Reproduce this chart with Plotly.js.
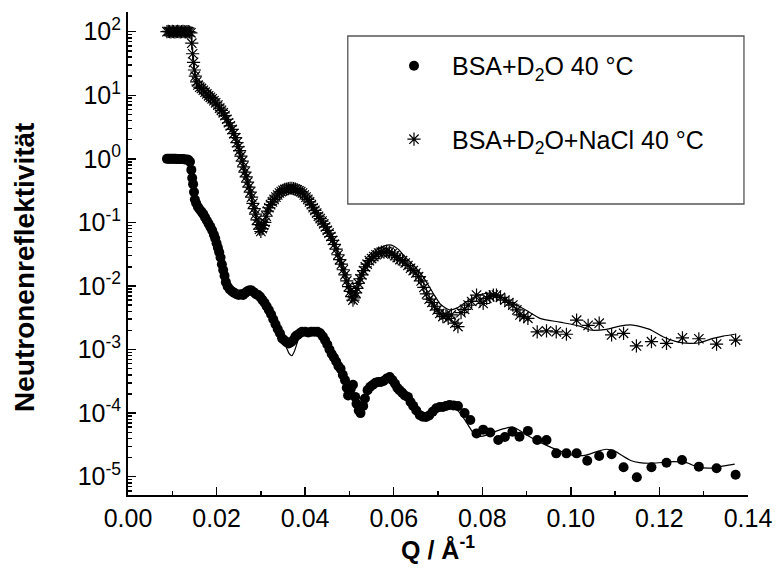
<!DOCTYPE html>
<html>
<head>
<meta charset="utf-8">
<script src="https://cdn.plot.ly/plotly-3.0.1.min.js"></script>
<style>html,body{margin:0;padding:0;background:#fff;}#chart{width:776px;height:569px;}</style>
</head>
<body>
<div id="chart"></div>
<script>
// ---- Data (Q in 1/Å, reflectivity) ----
const nameBSA = 'BSA+D<sub>2</sub>O 40 °C';
const nameNaCl = 'BSA+D<sub>2</sub>O+NaCl 40 °C';

const bsaPoints = [[0.0088,1.00],[0.0092,1.00],[0.0096,1.00],[0.0100,1.00],[0.0104,1.00],[0.0108,1.00],[0.0112,0.99],[0.0116,0.99],[0.0120,0.99],[0.0124,0.99],[0.0128,0.98],[0.0132,0.98],[0.0136,0.97],[0.0140,0.90],[0.0143,0.67],[0.0145,0.50],[0.0147,0.40],[0.0149,0.30],[0.0151,0.23],[0.0154,0.20],[0.0158,0.175],[0.0162,0.16],[0.0166,0.147],[0.0170,0.135],[0.0174,0.12],[0.0178,0.107],[0.0182,0.095],[0.0186,0.085],[0.0190,0.075],[0.0194,0.064],[0.0197,0.056],[0.0200,0.047],[0.0203,0.040],[0.0206,0.034],[0.0209,0.028],[0.0212,0.022],[0.0215,0.0178],[0.0218,0.0145],[0.0221,0.0115],[0.0225,0.0098],[0.0230,0.0088],[0.0235,0.0082],[0.0240,0.0078],[0.0245,0.0074],[0.0250,0.0072],[0.0255,0.0074],[0.0260,0.0072],[0.0265,0.0078],[0.0270,0.0083],[0.0275,0.0086],[0.0279,0.0085],[0.0284,0.0080],[0.0289,0.0074],[0.0294,0.0072],[0.0298,0.0068],[0.0303,0.0061],[0.0308,0.0055],[0.0313,0.0048],[0.0318,0.0042],[0.0323,0.0036],[0.0328,0.0030],[0.0333,0.0025],[0.0338,0.0021],[0.0343,0.0018],[0.0348,0.0015],[0.0353,0.0014],[0.0358,0.0013],[0.0363,0.00125],[0.0368,0.0013],[0.0373,0.0014],[0.0378,0.0016],[0.0383,0.0017],[0.0388,0.0018],[0.0393,0.0019],[0.0400,0.0019],[0.0407,0.00185],[0.0414,0.0019],[0.0421,0.0019],[0.0428,0.0019],[0.0434,0.0018],[0.0440,0.0016],[0.0445,0.0014],[0.0450,0.0012],[0.0455,0.0010],[0.0460,0.00085],[0.0465,0.00075],[0.0470,0.00065],[0.0475,0.00055],[0.0480,0.00050],[0.0485,0.00040],[0.0490,0.00033],[0.0494,0.00025],[0.0497,0.00019],[0.0503,0.00024],[0.0508,0.00028],[0.0513,0.00018],[0.0516,0.00014],[0.0521,0.00011],[0.0525,0.00010],[0.0531,0.00013],[0.0535,0.00017],[0.0541,0.00023],[0.0547,0.00026],[0.0553,0.00028],[0.0559,0.00030],[0.0565,0.00031],[0.0571,0.00031],[0.0577,0.00032],[0.0584,0.00035],[0.0591,0.00037],[0.0597,0.00033],[0.0603,0.00029],[0.0608,0.00025],[0.0613,0.00023],[0.0619,0.00021],[0.0625,0.00019],[0.0632,0.00018],[0.0638,0.00015],[0.0644,0.00013],[0.0651,0.00011],[0.0659,0.000093],[0.0666,0.000088],[0.0673,0.000087],[0.0680,0.000092],[0.0688,0.000105],[0.0696,0.000119],[0.0704,0.000125],[0.0711,0.000125],[0.0718,0.00013],[0.0726,0.000134],[0.0735,0.000132],[0.0745,0.000129],[0.0760,0.000100],[0.0773,0.000078],[0.0787,0.000048],[0.0802,0.000055],[0.0818,0.0000495],[0.0836,0.0000378],[0.0851,0.000042],[0.0868,0.000051],[0.0884,0.0000426],[0.0903,0.0000525],[0.0924,0.0000378],[0.0945,0.0000378],[0.0967,0.0000233],[0.0990,0.0000233],[0.1013,0.0000233],[0.1037,0.0000178],[0.1064,0.0000211],[0.1092,0.0000226],[0.1119,0.0000141],[0.1149,0.0000098],[0.1182,0.0000141],[0.1216,0.0000166],[0.1251,0.0000183],[0.1289,0.0000144],[0.1329,0.0000136],[0.1372,0.0000107]];

const naclPoints = [[0.0088,100],[0.0091,101],[0.0094,100],[0.0097,99],[0.0100,101],[0.0103,100],[0.0106,99],[0.0109,100],[0.0112,101],[0.0115,100],[0.0118,99],[0.0121,100],[0.0124,101],[0.0127,100],[0.0130,99],[0.0133,100],[0.0136,100],[0.0139,99],[0.0142,96],[0.0144,66],[0.0146,45],[0.0148,33],[0.0150,25],[0.0152,20],[0.0155,16.3],[0.0158,14.5],[0.0162,13.4],[0.0166,12.8],[0.0170,12.0],[0.0174,11.2],[0.0178,10.5],[0.0182,9.8],[0.0186,9.3],[0.0190,8.8],[0.0194,8.2],[0.0198,7.6],[0.0203,7.0],[0.0207,6.3],[0.0211,5.8],[0.0215,5.3],[0.0219,4.8],[0.0223,4.2],[0.0227,3.7],[0.0231,3.3],[0.0235,2.9],[0.0239,2.5],[0.0243,2.15],[0.0246,1.8],[0.0249,1.55],[0.0252,1.35],[0.0255,1.1],[0.0258,0.92],[0.0261,0.75],[0.0264,0.62],[0.0267,0.52],[0.0270,0.43],[0.0273,0.36],[0.0276,0.30],[0.0279,0.25],[0.0282,0.20],[0.0285,0.165],[0.0288,0.135],[0.0291,0.11],[0.0294,0.092],[0.0297,0.078],[0.0300,0.072],[0.0303,0.080],[0.0306,0.090],[0.0309,0.10],[0.0312,0.125],[0.0315,0.15],[0.0318,0.17],[0.0322,0.19],[0.0326,0.21],[0.0330,0.23],[0.0334,0.25],[0.0338,0.27],[0.0342,0.29],[0.0346,0.305],[0.0350,0.32],[0.0354,0.33],[0.0358,0.335],[0.0362,0.34],[0.0366,0.345],[0.0370,0.345],[0.0374,0.34],[0.0378,0.335],[0.0382,0.325],[0.0386,0.315],[0.0390,0.305],[0.0394,0.29],[0.0398,0.27],[0.0402,0.25],[0.0406,0.23],[0.0410,0.21],[0.0414,0.19],[0.0418,0.17],[0.0422,0.155],[0.0426,0.14],[0.0430,0.125],[0.0434,0.115],[0.0438,0.105],[0.0442,0.095],[0.0446,0.085],[0.0450,0.075],[0.0454,0.068],[0.0458,0.060],[0.0462,0.052],[0.0466,0.045],[0.0470,0.038],[0.0474,0.031],[0.0478,0.026],[0.0482,0.022],[0.0486,0.018],[0.0490,0.015],[0.0494,0.012],[0.0498,0.0098],[0.0502,0.0082],[0.0505,0.0068],[0.0508,0.0060],[0.0511,0.0065],[0.0514,0.0078],[0.0517,0.0092],[0.0520,0.011],[0.0524,0.013],[0.0528,0.015],[0.0532,0.0175],[0.0536,0.020],[0.0540,0.022],[0.0545,0.025],[0.0550,0.027],[0.0555,0.029],[0.0560,0.031],[0.0566,0.033],[0.0572,0.034],[0.0578,0.034],[0.0584,0.035],[0.0590,0.034],[0.0596,0.032],[0.0602,0.030],[0.0608,0.028],[0.0614,0.026],[0.0620,0.025],[0.0626,0.023],[0.0632,0.021],[0.0638,0.019],[0.0644,0.0175],[0.0650,0.016],[0.0656,0.014],[0.0662,0.012],[0.0668,0.0095],[0.0674,0.0075],[0.0680,0.0062],[0.0686,0.0055],[0.0692,0.0048],[0.0698,0.0042],[0.0704,0.0037],[0.0711,0.0033],[0.0718,0.0035],[0.0723,0.0031],[0.0730,0.0035],[0.0738,0.0026],[0.0745,0.0023],[0.0752,0.0038],[0.0760,0.0043],[0.0768,0.0050],[0.0776,0.0057],[0.0787,0.0072],[0.0795,0.0058],[0.0802,0.0053],[0.0810,0.0064],[0.0817,0.0068],[0.0825,0.0072],[0.0832,0.0072],[0.0841,0.0066],[0.0851,0.0060],[0.0860,0.0055],[0.0869,0.0050],[0.0878,0.0042],[0.0885,0.0035],[0.0894,0.0033],[0.0903,0.0031],[0.0924,0.0019],[0.0945,0.00196],[0.0967,0.0019],[0.0990,0.00174],[0.1013,0.0029],[0.1039,0.0024],[0.1064,0.0026],[0.1092,0.0017],[0.1119,0.0018],[0.1148,0.00114],[0.1182,0.00133],[0.1216,0.00125],[0.1252,0.00153],[0.1289,0.00148],[0.1329,0.00122],[0.1372,0.00141]];

const bsaFit = [[0.0088,1.0],[0.0135,0.99],[0.0143,0.67],[0.0150,0.25],[0.0158,0.175],[0.0170,0.135],[0.0182,0.095],[0.0194,0.064],[0.0206,0.034],[0.0215,0.018],[0.0222,0.011],[0.0235,0.0082],[0.0250,0.0073],[0.0265,0.0078],[0.0277,0.0085],[0.0290,0.0075],[0.0303,0.0060],[0.0318,0.0042],[0.0333,0.0025],[0.0348,0.0014],[0.0357,0.0011],[0.0364,0.00086],[0.0370,0.00080],[0.0376,0.00095],[0.0384,0.0014],[0.0392,0.0018],[0.0405,0.0019],[0.0425,0.0019],[0.0440,0.0016],[0.0455,0.0010],[0.0470,0.00065],[0.0485,0.00038],[0.0500,0.00022],[0.0512,0.00015],[0.0522,0.00012],[0.0532,0.00014],[0.0545,0.00024],[0.0560,0.00030],[0.0575,0.00033],[0.0590,0.00036],[0.0603,0.00030],[0.0618,0.00021],[0.0632,0.00017],[0.0648,0.00012],[0.0662,0.000092],[0.0676,0.000088],[0.0690,0.00010],[0.0705,0.00012],[0.0720,0.000128],[0.0735,0.000125],[0.0750,0.00010],[0.0765,0.000070],[0.0778,0.000051],[0.0795,0.000043],[0.0810,0.000045],[0.0835,0.000053],[0.0869,0.0000605],[0.0900,0.0000453],[0.0930,0.000035],[0.0959,0.0000282],[0.1004,0.0000219],[0.1035,0.0000219],[0.1060,0.000025],[0.1080,0.000027],[0.1100,0.000025],[0.1114,0.0000219],[0.1135,0.000018],[0.1155,0.0000166],[0.1185,0.0000163],[0.1231,0.0000172],[0.1261,0.0000166],[0.1284,0.0000144],[0.1314,0.0000136],[0.1336,0.0000144],[0.1370,0.0000158]];

const naclFit = [[0.0088,100],[0.0142,100],[0.0144,66],[0.0148,33],[0.0152,20],[0.0158,14.5],[0.0166,12.8],[0.0178,10.5],[0.0190,8.8],[0.0203,7.0],[0.0215,5.3],[0.0227,3.7],[0.0239,2.5],[0.0249,1.55],[0.0258,0.92],[0.0267,0.52],[0.0276,0.30],[0.0285,0.165],[0.0294,0.095],[0.0300,0.075],[0.0306,0.085],[0.0315,0.15],[0.0330,0.23],[0.0346,0.305],[0.0362,0.34],[0.0372,0.345],[0.0386,0.315],[0.0402,0.25],[0.0418,0.17],[0.0434,0.115],[0.0450,0.075],[0.0466,0.045],[0.0482,0.022],[0.0498,0.0098],[0.0508,0.0062],[0.0514,0.0075],[0.0524,0.013],[0.0540,0.024],[0.0555,0.033],[0.0570,0.040],[0.0585,0.044],[0.0595,0.044],[0.0610,0.038],[0.0625,0.029],[0.0644,0.0214],[0.0666,0.014],[0.0689,0.0077],[0.0705,0.0052],[0.0726,0.0042],[0.0745,0.0046],[0.0760,0.0054],[0.0790,0.0072],[0.0817,0.0077],[0.0845,0.0066],[0.0869,0.0054],[0.0900,0.0041],[0.0930,0.0031],[0.0975,0.0027],[0.1020,0.00234],[0.1043,0.00203],[0.1080,0.00208],[0.1110,0.00234],[0.1140,0.00243],[0.1178,0.00208],[0.1208,0.00159],[0.1238,0.00133],[0.1268,0.00125],[0.1291,0.00128],[0.1321,0.0015],[0.1344,0.00163],[0.1370,0.00174]];

const xTickVals = [0, 0.02, 0.04, 0.06, 0.08, 0.10, 0.12, 0.14];
const xTickText = ['0.00','0.02','0.04','0.06','0.08','0.10','0.12','0.14'];
const yTickVals = [100, 10, 1, 0.1, 0.01, 0.001, 0.0001, 0.00001];
const yTickText = ['10<sup>2</sup>','10<sup>1</sup>','10<sup>0</sup>','10<sup>-1</sup>','10<sup>-2</sup>','10<sup>-3</sup>','10<sup>-4</sup>','10<sup>-5</sup>'];
const yMinorMult = [2,3,4,5,6,7,8,9];
const yMinorExp = [-6,-5,-4,-3,-2,-1,0,1,2];
const xMinorVals = [0.01,0.03,0.05,0.07,0.09,0.11,0.13];

// ---- Build ----
const col = (arr, i) => arr.map(p => p[i]);
const yMinorVals = [];
yMinorExp.forEach(e => yMinorMult.forEach(m => yMinorVals.push(m * Math.pow(10, e))));

const FONT = 'Liberation Sans, Arial, Helvetica, sans-serif';

const traces = [
  {x: col(bsaPoints,0), y: col(bsaPoints,1), type:'scatter', mode:'markers', name: nameBSA,
   legendgroup:'a', marker:{symbol:'circle', size:10, color:'#000'}},
  {x: col(naclPoints,0), y: col(naclPoints,1), type:'scatter', mode:'markers', name: nameNaCl,
   legendgroup:'b', marker:{symbol:'asterisk-open', size:11, color:'#000', line:{color:'#111', width:1.2}}},
  {x: col(bsaFit,0), y: col(bsaFit,1), type:'scatter', mode:'lines', showlegend:false,
   line:{color:'#000', width:1.2, shape:'spline', smoothing:0.6}},
  {x: col(naclFit,0), y: col(naclFit,1), type:'scatter', mode:'lines', showlegend:false,
   line:{color:'#000', width:1.2, shape:'spline', smoothing:0.6}}
];

const layout = {
  width: 776, height: 569,
  margin: {l:128, r:28, t:12, b:74},
  paper_bgcolor:'#fff', plot_bgcolor:'#fff',
  font: {family: FONT, size: 25, color:'#000'},
  showlegend: true,
  legend: {x: 0.40, xanchor:'left', y: 0.936, yanchor:'top', bgcolor:'rgba(0,0,0,0)', borderwidth:0,
           font:{family: FONT, size:25, color:'#000'}, itemwidth: 66, traceorder:'grouped', tracegroupgap: 38},
  xaxis: {
    range:[0, 0.14], showgrid:false, zeroline:false, showline:true, linecolor:'#000', linewidth:2,
    tickmode:'array', tickvals: xTickVals, ticktext: xTickText, ticks:'inside', ticklen:8, tickwidth:1.5, tickcolor:'#000',
    tickfont:{family: FONT, size:25},
    minor:{tickmode:'array', tickvals: xMinorVals, ticks:'inside', ticklen:4, tickwidth:1.5, tickcolor:'#000', showgrid:false},
    title:{text:'<b>Q / Å<sup>-1</sup></b>', font:{family: FONT, size:25}, standoff: 10}
  },
  yaxis: {
    type:'log', range:[-5.288, 2.31], showgrid:false, zeroline:false, showline:true, linecolor:'#000', linewidth:2,
    tickmode:'array', tickvals: yTickVals, ticktext: yTickText, ticks:'inside', ticklen:8, tickwidth:1.5, tickcolor:'#000',
    tickfont:{family: FONT, size:25},
    minor:{tickmode:'array', tickvals: yMinorVals, ticks:'inside', ticklen:4, tickwidth:1.5, tickcolor:'#000', showgrid:false}
  },
  shapes: [
    {type:'rect', xref:'paper', yref:'paper', x0:0.3545, x1:0.9935, y0:0.6025, y1:0.9503,
     line:{color:'#555', width:1.3}, fillcolor:'rgba(0,0,0,0)', layer:'above'}
  ],
  annotations: [
    {text:'<b>Neutronenreflektivität</b>', xref:'paper', yref:'paper', x:-0.167, y:0.471,
     xanchor:'center', yanchor:'middle', textangle:-90, showarrow:false, font:{family: FONT, size:28, color:'#000'}}
  ]
};

Plotly.newPlot('chart', traces, layout, {displayModeBar:false, staticPlot:true});
</script>
</body>
</html>
